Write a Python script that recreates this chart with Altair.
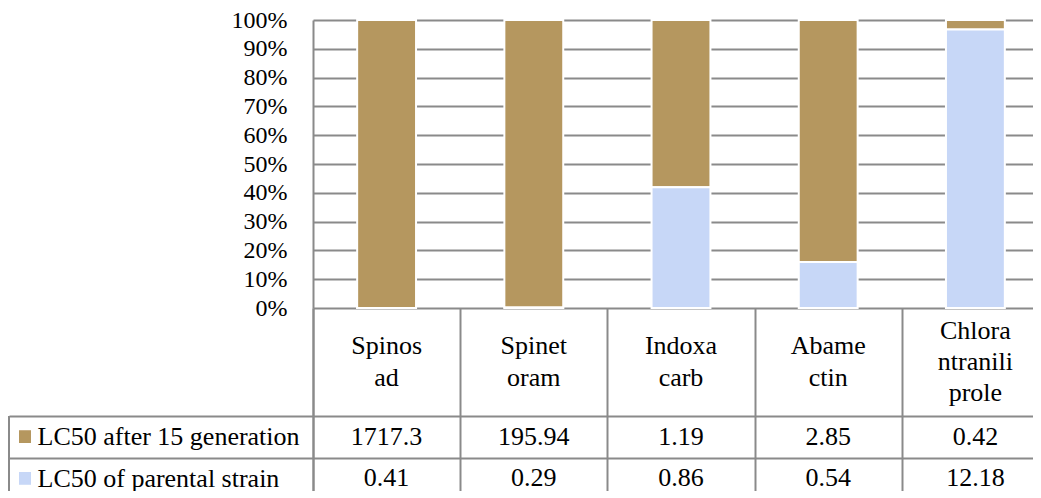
import altair as alt
import pandas as pd

categories = ["Spinosad", "Spinetoram", "Indoxacarb", "Abamectin", "Chlorantraniliprole"]
header_lines = [["Spinos", "ad"], ["Spinet", "oram"], ["Indoxa", "carb"], ["Abame", "ctin"],
                ["Chlora", "ntranili", "prole"]]
series = ["LC50 after 15 generation", "LC50 of parental strain"]
lc50_after15 = [1717.3, 195.94, 1.19, 2.85, 0.42]
lc50_parental = [0.41, 0.29, 0.86, 0.54, 12.18]
colors = ["#b5975f", "#c7d7f7"]

rows = []
for i, c in enumerate(categories):
    rows.append(dict(cat=c, series=series[0], value=lc50_after15[i], label=str(lc50_after15[i]), order=1))
    rows.append(dict(cat=c, series=series[1], value=lc50_parental[i], label=str(lc50_parental[i]), order=0))
df = pd.DataFrame(rows)

head_rows = []
for c, ls in zip(categories, header_lines):
    n = len(ls)
    for j, t in enumerate(ls):
        head_rows.append(dict(cat=c, text=t, line=j - (n - 1) / 2))
hdf = pd.DataFrame(head_rows)

font = "'Liberation Serif', 'Times New Roman', serif"
grid = "#8a8a8a"
tfs = 26

x_scale = alt.Scale(domain=categories, paddingInner=0, paddingOuter=0)
color_scale = alt.Scale(domain=series, range=colors)

# --- stacked 100% columns ---
bars = alt.Chart(df).mark_bar(width={"band": 0.4}, stroke="white", strokeWidth=2).encode(
    x=alt.X("cat:N", scale=x_scale, sort=categories, title=None, axis=None),
    y=alt.Y("value:Q", stack="normalize", scale=alt.Scale(domain=[0, 1]), title=None,
            axis=alt.Axis(values=[i / 10 for i in range(11)], format=".0%", labelFont=font,
                          labelFontSize=24, labelColor="black", labelPadding=26, ticks=False,
                          domainColor=grid, domainWidth=2, gridColor=grid, gridWidth=1.8)),
    color=alt.Color("series:N", scale=color_scale, legend=None),
    order=alt.Order("order:Q"),
).properties(width=736, height=288)

# --- header row of the data table ---
header = alt.Chart(hdf).mark_text(font=font, fontSize=tfs, color="black", baseline="middle").encode(
    x=alt.X("cat:N", scale=x_scale, sort=categories, title=None,
            axis=alt.Axis(orient="bottom", tickBand="extent", labels=False, ticks=False, domain=False,
                          grid=True, gridColor=grid, gridWidth=2)),
    y=alt.Y("line:Q", scale=alt.Scale(domain=[1.74, -1.74]), title=None,
            axis=alt.Axis(labels=False, ticks=False, grid=False, domainColor=grid, domainWidth=2)),
    text="text:N",
).properties(width=736, height=108)

# --- value rows of the data table ---
y_enc = alt.Y("series:N", sort=series, title=None,
              scale=alt.Scale(domain=series, paddingInner=0, paddingOuter=0),
              axis=alt.Axis(tickBand="extent", tickSize=304, tickColor=grid, tickWidth=2,
                            labelAlign="left", labelPadding=-28, labelBaseline="middle",
                            labelFont=font, labelFontSize=tfs, labelColor="black", labelLimit=0,
                            domainColor=grid, domainWidth=2, grid=True, gridColor=grid, gridWidth=2))
x_enc = alt.X("cat:N", scale=x_scale, sort=categories, title=None,
              axis=alt.Axis(orient="top", tickBand="extent", labels=False, ticks=False, domain=False,
                            grid=True, gridColor=grid, gridWidth=2))

table_text = alt.Chart(df).mark_text(font=font, fontSize=tfs, color="black", baseline="middle").encode(
    x=x_enc, y=y_enc, text="label:N")
keys = alt.Chart(df).mark_point(shape="square", filled=True, size=144, opacity=1).encode(
    x=alt.value(-288), y=alt.Y("series:N", sort=series),
    color=alt.Color("series:N", scale=color_scale, legend=None))
border = alt.Chart(df).mark_rule(color=grid, strokeWidth=2).encode(
    x=alt.value(-304), y=alt.value(0), y2=alt.value(83))

table = alt.layer(table_text, keys, border).properties(width=736, height=83)

chart = alt.vconcat(bars, header, table, spacing=0, bounds="flush").properties(
    padding={"left": 0, "top": 0, "right": -16, "bottom": -9}
).configure_view(stroke=None)

chart.save("out.html", embed_options={"renderer": "svg", "actions": False})
